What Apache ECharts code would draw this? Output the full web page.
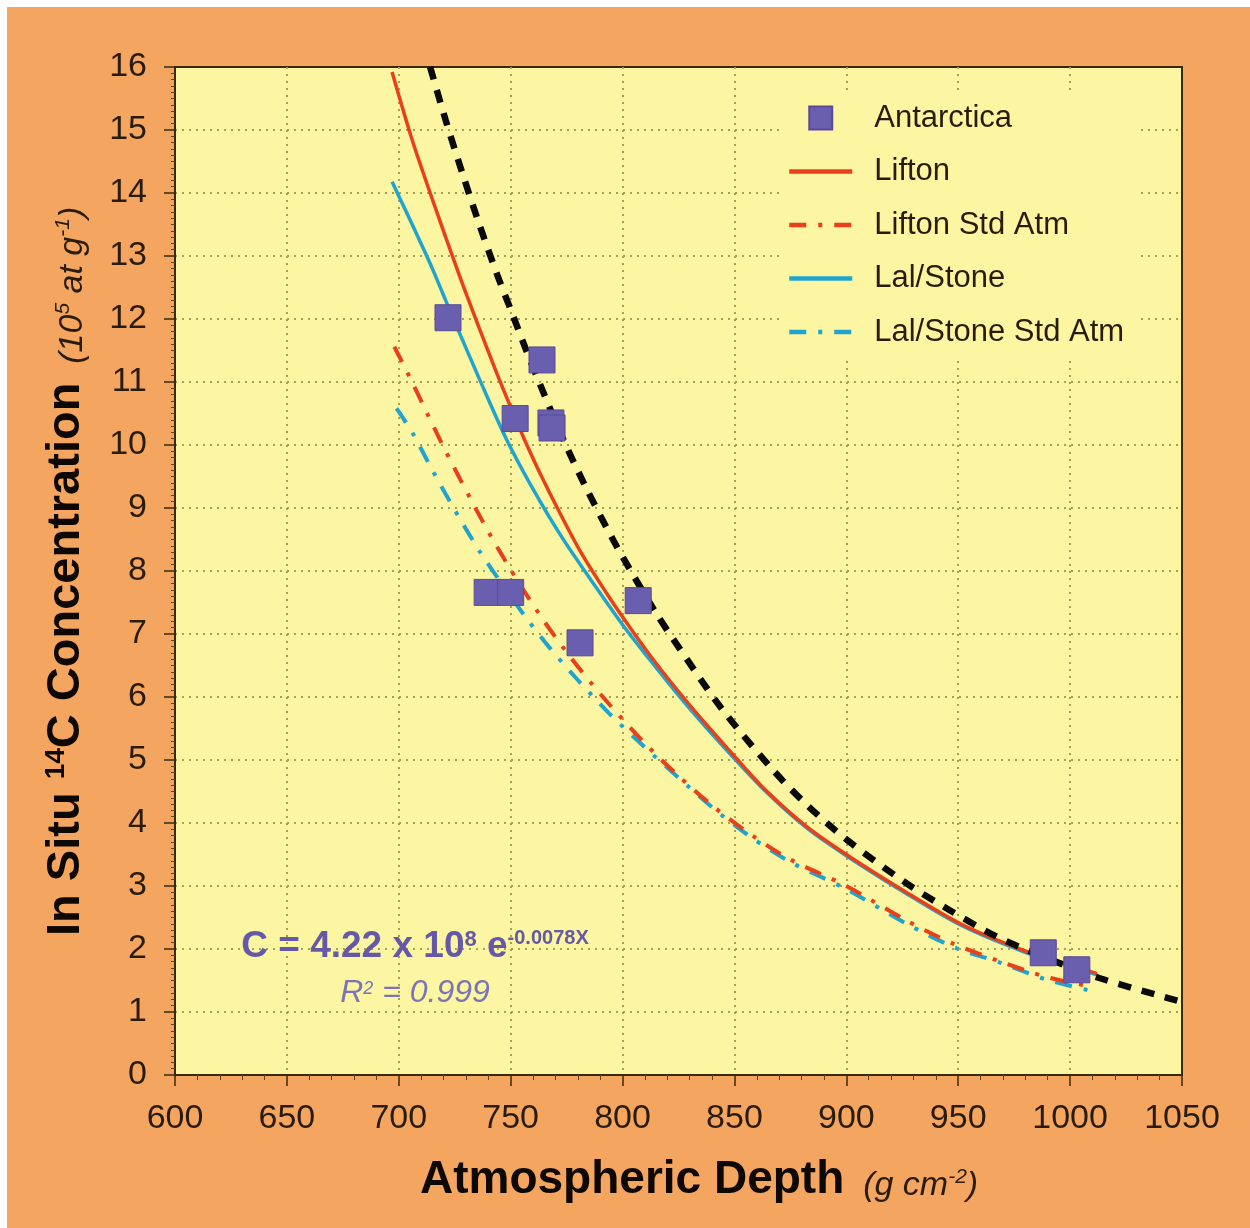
<!DOCTYPE html>
<html><head><meta charset="utf-8">
<script src="https://cdn.jsdelivr.net/npm/echarts@6/dist/echarts.min.js"></script>
<style>html,body{margin:0;padding:0;background:#fff}#c{width:1250px;height:1228px}</style>
</head><body><div id="c"></div>
<script>
// ---- data ----
const xMin = 600, xMax = 1050, xStep = 50;
const yMin = 0, yMax = 16, yStep = 1;

const antarcticaX = [722, 764, 752, 768, 768.5, 739.5, 750, 781, 807, 988, 1003];
const antarcticaY = [12.02, 11.35, 10.42, 10.35, 10.27, 7.66, 7.66, 6.86, 7.53, 1.94, 1.67];

const liftonX = [697, 706, 715, 727, 736, 744, 750, 756, 763, 772, 781, 793, 803, 814, 827, 839, 852, 864, 882, 900, 924, 951, 979, 998, 1012];
const liftonY = [15.92, 14.84, 13.9, 12.7, 11.85, 11.12, 10.6, 10.1, 9.56, 8.92, 8.32, 7.64, 7.12, 6.58, 6.0, 5.5, 4.98, 4.52, 3.95, 3.5, 2.96, 2.4, 1.98, 1.77, 1.61];

const lalX = [697, 706, 715, 723, 736, 748, 760, 773, 788, 801, 812, 824, 836, 848, 864, 882, 900, 924, 951, 979, 998, 1012];
const lalY = [14.18, 13.5, 12.8, 12.12, 11.05, 10.1, 9.3, 8.53, 7.75, 7.1, 6.6, 6.07, 5.57, 5.1, 4.5, 3.93, 3.48, 2.94, 2.38, 1.96, 1.75, 1.59];

const liftonStdX = [698, 704, 713, 721, 732, 742, 753, 765, 777, 790, 809, 824, 841, 858, 875, 900, 927, 948, 969, 989, 1010];
const liftonStdY = [11.56, 11.14, 10.48, 9.9, 9.15, 8.5, 7.85, 7.2, 6.62, 6.05, 5.3, 4.78, 4.25, 3.8, 3.42, 3.0, 2.45, 2.08, 1.8, 1.56, 1.40];

const lalStdX = [699, 706, 715, 725, 736, 746, 756, 767, 780, 794, 810, 825, 841, 858, 875, 900, 927, 948, 969, 989, 1010];
const lalStdY = [10.58, 10.2, 9.6, 8.97, 8.32, 7.8, 7.3, 6.8, 6.27, 5.74, 5.2, 4.72, 4.22, 3.76, 3.38, 2.95, 2.4, 2.03, 1.78, 1.52, 1.33];

const fitX = [714, 721, 729, 736, 744, 750, 757, 765, 774, 784, 796, 805, 815, 823, 844, 867, 882, 900, 927, 946, 967, 990, 1013, 1039, 1050];
const fitY = [16.0, 15.15, 14.25, 13.5, 12.7, 12.15, 11.5, 10.8, 10.05, 9.3, 8.48, 7.92, 7.33, 6.9, 5.83, 4.85, 4.3, 3.74, 3.04, 2.62, 2.2, 1.85, 1.54, 1.27, 1.16];

const legendNames = ['Antarctica', 'Lifton', 'Lifton Std Atm', 'Lal/Stone', 'Lal/Stone Std Atm'];

// ---- helpers ----
const zip = (xs, ys) => xs.map((x, i) => [x, ys[i]]);
const FONT = '"Liberation Sans", Arial, sans-serif';
const INK = '#2a1c0c';
const RED = '#ea3f1b';
const BLUE = '#1fa4cf';
const PURPLE = '#6a5eae';
const PLOT_BG = '#fcf5a1';
const GRIDC = '#a89f5a';
const EQC = '#6458a8';

function lineSeries(name, xs, ys, color, width, type) {
  return {
    type: 'line', name, data: zip(xs, ys), symbol: 'none', smooth: 0.3,
    lineStyle: { color, width, type, cap: 'butt' }, itemStyle: { color },
    z: 3
  };
}

const legendData = legendNames.map(n => n === 'Antarctica'
  ? { name: n, icon: 'path://M0,0L10,0L10,10L0,10Z' }
  : { name: n, itemStyle: { opacity: 0 } });

const chart = echarts.init(document.getElementById('c'));
chart.setOption({
  animation: false,
  backgroundColor: '#f4a55f',
  grid: {
    left: 175, right: 68, top: 67, bottom: 153,
    show: true, backgroundColor: PLOT_BG, borderColor: '#3a2810', borderWidth: 2,
    outerBoundsMode: 'none'
  },
  xAxis: {
    type: 'value', min: xMin, max: xMax, interval: xStep,
    axisLine: { show: true, lineStyle: { color: '#3a2810', width: 2 } },
    axisTick: { show: true, length: 11, lineStyle: { color: '#3a2810', width: 1.5 } },
    minorTick: { show: true, splitNumber: 5, length: 5, lineStyle: { color: '#5a4420', width: 1 } },
    axisLabel: { fontSize: 34, color: INK, fontFamily: FONT, margin: 27, formatter: v => String(v) },
    splitLine: { show: true, showMinLine: false, showMaxLine: false, lineStyle: { color: GRIDC, width: 2, type: [2, 5] } }
  },
  yAxis: {
    type: 'value', min: yMin, max: yMax, interval: yStep,
    axisLine: { show: true, lineStyle: { color: '#3a2810', width: 2 } },
    axisTick: { show: true, length: 11, lineStyle: { color: '#3a2810', width: 1.5 } },
    minorTick: { show: true, splitNumber: 10, length: 4, lineStyle: { color: '#5a4420', width: 1 } },
    axisLabel: { fontSize: 34, color: INK, fontFamily: FONT, margin: 28, formatter: v => String(v) },
    splitLine: { show: true, showMinLine: false, showMaxLine: false, lineStyle: { color: GRIDC, width: 2, type: [2, 5] } }
  },
  legend: {
    data: legendData,
    orient: 'vertical',
    left: 779, top: 91,
    padding: [10, 14, 10, 8],
    backgroundColor: PLOT_BG,
    itemWidth: 63, itemHeight: 23, itemGap: 19.5,
    symbolKeepAspect: true,
    lineStyle: { width: 4.5 },
    textStyle: { fontSize: 31, color: INK, fontFamily: FONT, lineHeight: 34, padding: [0, 0, 0, 17] },
    z: 4
  },
  series: [
    lineSeries('Lal/Stone Std Atm', lalStdX, lalStdY, BLUE, 4, [17, 12, 4, 12]),
    lineSeries('Lifton Std Atm', liftonStdX, liftonStdY, RED, 4, [17, 12, 4, 12]),
    lineSeries('Lal/Stone', lalX, lalY, BLUE, 3.5, 'solid'),
    lineSeries('Lifton', liftonX, liftonY, RED, 3.5, 'solid'),
    Object.assign(lineSeries('Fit', fitX, fitY, '#0a0a0a', 6.5, [13, 11]), { z: 4 }),
    {
      type: 'scatter', name: 'Antarctica', data: zip(antarcticaX, antarcticaY),
      symbol: 'rect', symbolSize: 26,
      itemStyle: { color: PURPLE, borderColor: '#574b98', borderWidth: 1, opacity: 1 },
      z: 5
    }
  ],
  graphic: [
    { type: 'rect', shape: { x: 0, y: 0, width: 1250, height: 7 }, style: { fill: '#ffffff' }, z: 100 },
    { type: 'rect', shape: { x: 0, y: 0, width: 7, height: 1228 }, style: { fill: '#ffffff' }, z: 100 },
    {
      type: 'text', x: 420, y: 1180, z: 100,
      style: {
        text: '{b|Atmospheric Depth}{i|  (g cm}{s|-2}{i|)}',
        align: 'left', verticalAlign: 'middle',
        rich: {
          b: { fontSize: 46, fontWeight: 'bold', fontFamily: FONT, fill: '#0e0804', lineHeight: 46, verticalAlign: 'bottom' },
          i: { fontSize: 34, fontStyle: 'italic', fontFamily: FONT, fill: INK, lineHeight: 36, verticalAlign: 'bottom' },
          s: { fontSize: 21, fontStyle: 'italic', fontFamily: FONT, fill: INK, lineHeight: 21, verticalAlign: 'top', padding: [10, 0, 0, 0] }
        }
      }
    },
    {
      type: 'text', x: 66, y: 936, rotation: Math.PI / 2, z: 100,
      style: {
        text: '{b|In Situ }{bs|14}{b|C Concentration}{i|  (10}{s|5}{i| at g}{s|-1}{i|)}',
        align: 'left', verticalAlign: 'middle',
        rich: {
          b: { fontSize: 47, fontWeight: 'bold', fontFamily: FONT, fill: '#0e0804', lineHeight: 47, verticalAlign: 'bottom' },
          bs: { fontSize: 28, fontWeight: 'bold', fontFamily: FONT, fill: '#0e0804', lineHeight: 24, verticalAlign: 'top', padding: [0, 0, 0, 0] },
          i: { fontSize: 34, fontStyle: 'italic', fontFamily: FONT, fill: INK, lineHeight: 36, verticalAlign: 'bottom' },
          s: { fontSize: 21, fontStyle: 'italic', fontFamily: FONT, fill: INK, lineHeight: 21, verticalAlign: 'top', padding: [10, 0, 0, 0] }
        }
      }
    },
    {
      type: 'text', x: 415, y: 947, z: 100,
      style: {
        text: '{m|C = 4.22 x 10}{s|8}{m| e}{s2|-0.0078X}',
        align: 'center', verticalAlign: 'middle',
        rich: {
          m: { fontSize: 37, fontWeight: 'bold', fontFamily: FONT, fill: EQC, lineHeight: 37, verticalAlign: 'bottom' },
          s: { fontSize: 22, fontWeight: 'bold', fontFamily: FONT, fill: EQC, lineHeight: 22, verticalAlign: 'top', padding: [0, 0, 0, 0] },
          s2: { fontSize: 20, fontWeight: 'bold', fontFamily: FONT, fill: EQC, lineHeight: 20, verticalAlign: 'top', padding: [0, 0, 0, 0] }
        }
      }
    },
    {
      type: 'text', x: 415, y: 993, z: 100,
      style: {
        text: '{r|R}{s|2}{r| = 0.999}',
        align: 'center', verticalAlign: 'middle',
        rich: {
          r: { fontSize: 32, fontStyle: 'italic', fontFamily: FONT, fill: '#7c74b6', lineHeight: 32, verticalAlign: 'bottom' },
          s: { fontSize: 18, fontStyle: 'italic', fontFamily: FONT, fill: '#7c74b6', lineHeight: 18, verticalAlign: 'top', padding: [3, 0, 0, 0] }
        }
      }
    }
  ]
});
</script>
</body></html>
